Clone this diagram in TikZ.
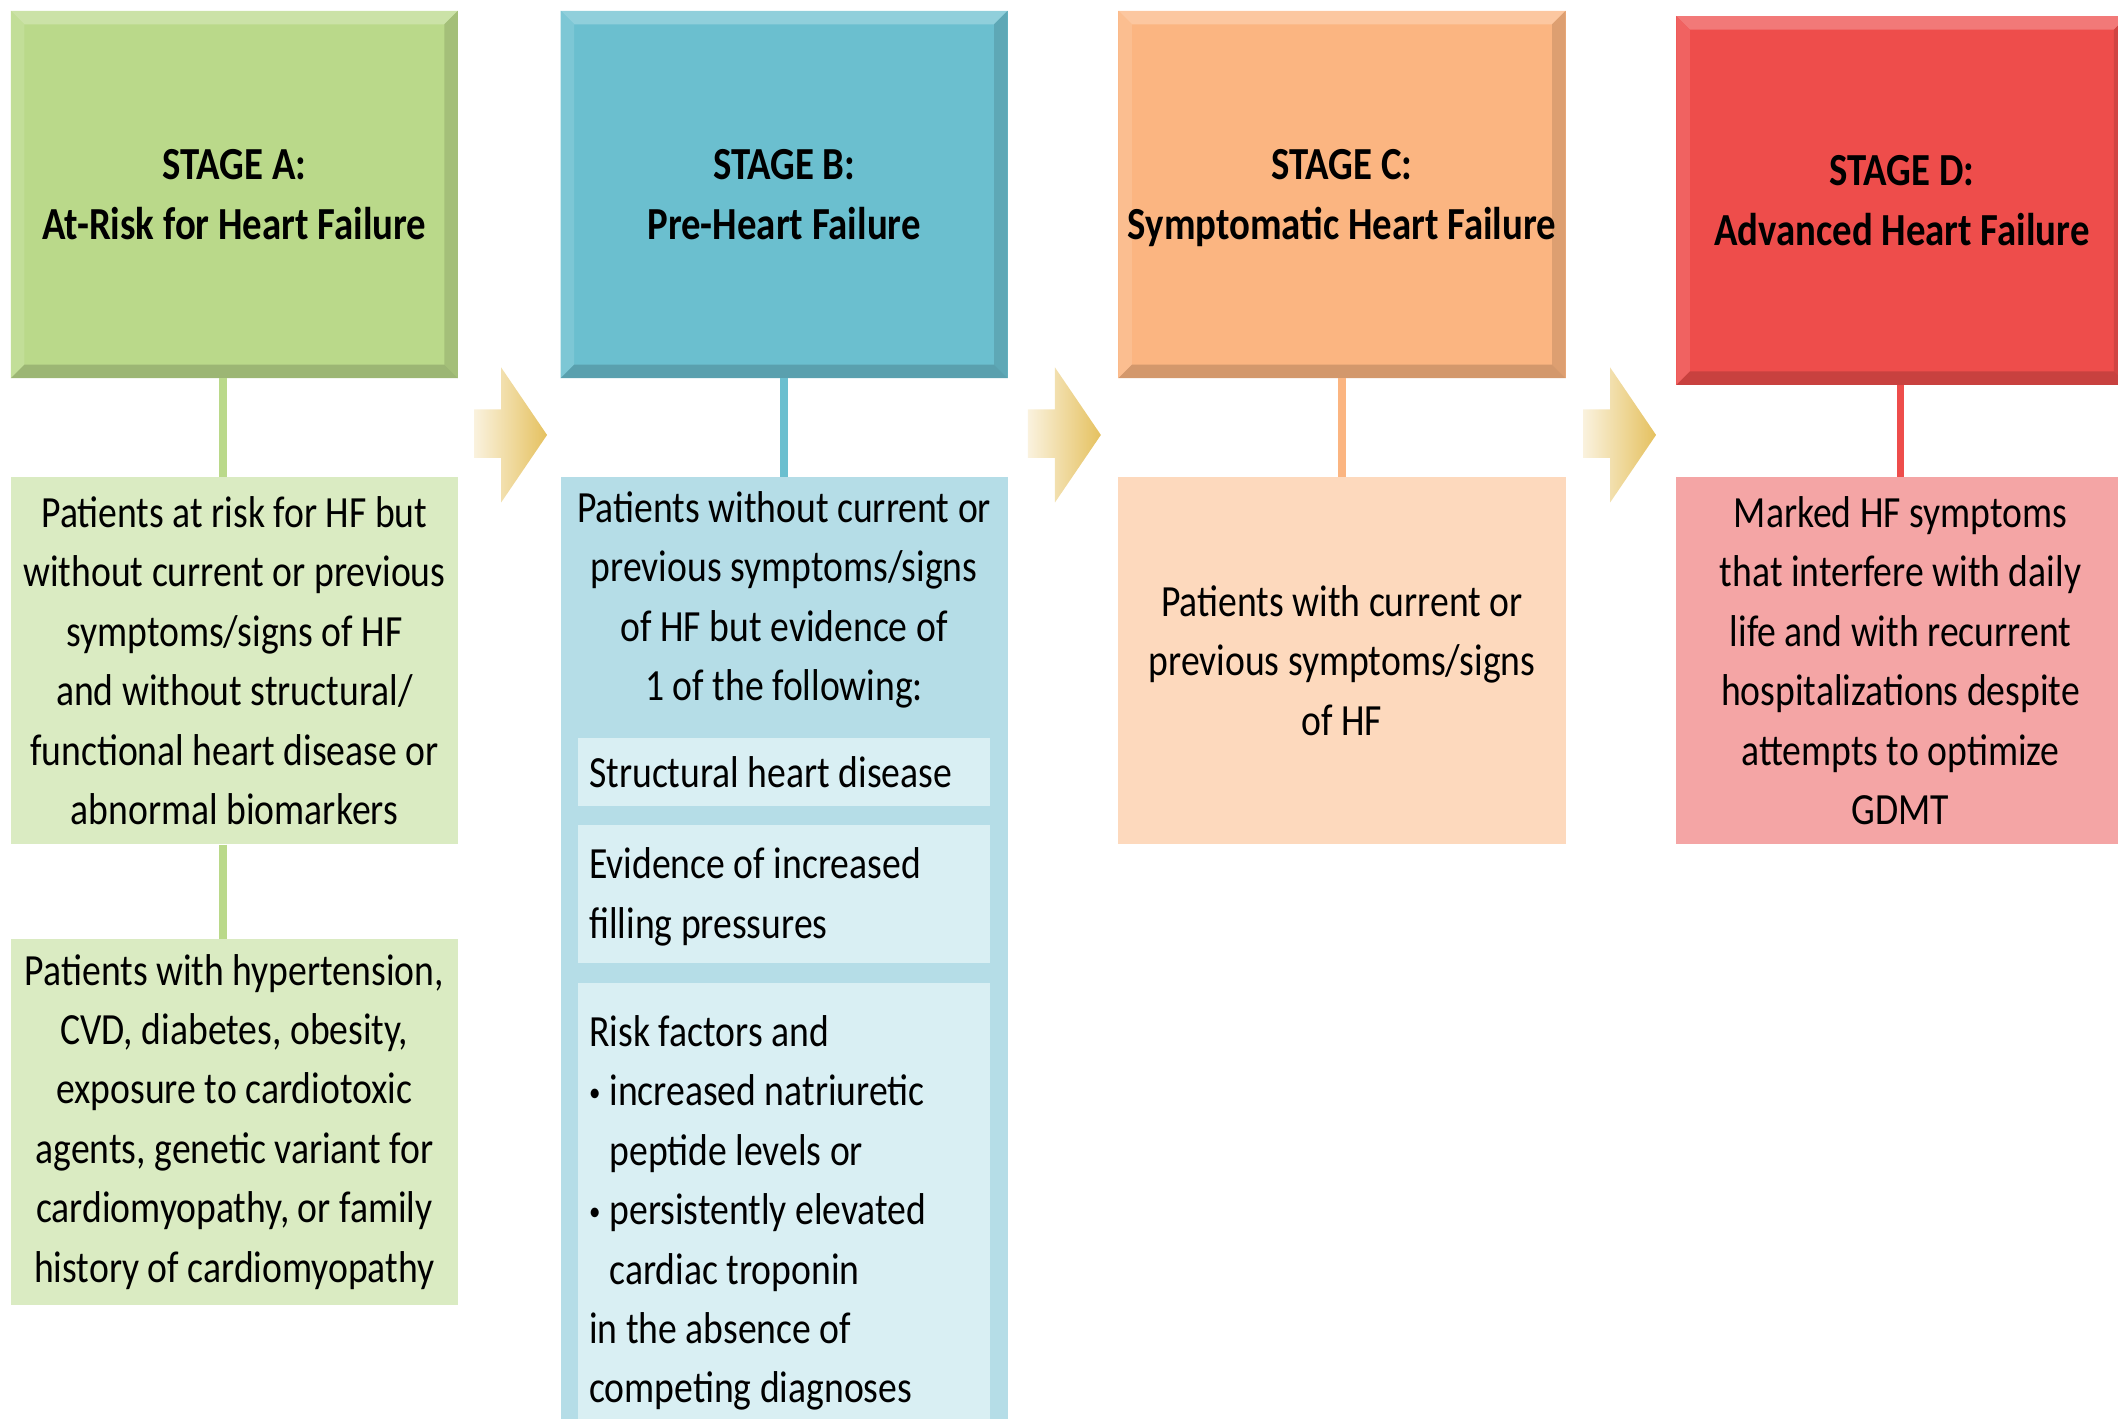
\documentclass[tikz,border=0pt]{standalone}
\usepackage{fontspec}
\setmainfont{Carlito}[FakeStretch=0.845]
\usetikzlibrary{calc}
\definecolor{cA}{HTML}{BAD98A}
\definecolor{cAl}{HTML}{DAEBC2}
\definecolor{cB}{HTML}{6BBFCF}
\definecolor{cBl}{HTML}{B5DDE7}
\definecolor{cBi}{HTML}{D9EFF3}
\definecolor{cC}{HTML}{FBB581}
\definecolor{cCl}{HTML}{FDD9BD}
\definecolor{cD}{HTML}{EE4D4B}
\definecolor{cDl}{HTML}{F4A5A5}
\definecolor{arrL}{HTML}{FAF2DE}
\definecolor{arrR}{HTML}{E5C15F}
\tikzset{
  bevel/.style={fill=#1, path picture={
    \fill[#1!75!white] (path picture bounding box.north west) -- (path picture bounding box.north east)
      -- ([xshift=-10pt,yshift=-10pt]path picture bounding box.north east) -- ([xshift=10pt,yshift=-10pt]path picture bounding box.north west) -- cycle;
    \fill[#1!88!white] (path picture bounding box.north west) -- ([xshift=10pt,yshift=-10pt]path picture bounding box.north west)
      -- ([xshift=10pt,yshift=10pt]path picture bounding box.south west) -- (path picture bounding box.south west) -- cycle;
    \fill[#1!88!black] (path picture bounding box.north east) -- ([xshift=-10pt,yshift=-10pt]path picture bounding box.north east)
      -- ([xshift=-10pt,yshift=10pt]path picture bounding box.south east) -- (path picture bounding box.south east) -- cycle;
    \fill[#1!84!black] (path picture bounding box.south west) -- ([xshift=10pt,yshift=10pt]path picture bounding box.south west)
      -- ([xshift=-10pt,yshift=10pt]path picture bounding box.south east) -- (path picture bounding box.south east) -- cycle;
  }},
  head/.style={bevel=#1, minimum width=331pt, minimum height=272pt, inner sep=0pt, align=center,
    font=\bfseries\fontsize{34}{44}\selectfont},
  stagebox/.style={fill=#1, minimum width=331pt, minimum height=272pt, inner sep=0pt, align=center,
    font=\fontsize{33}{44}\selectfont},
  innerbox/.style={fill=cBi, minimum width=305pt, inner sep=0pt},
  lefttext/.style={anchor=west, align=left, inner sep=0pt, font=\fontsize{33}{44}\selectfont},
  conn/.style={line width=5.5pt},
  stagearrow/.style={left color=arrL, right color=arrR},
}
\newcommand{\blt}{\makebox[15pt][l]{\raisebox{3pt}{\fontsize{20}{20}\selectfont •}}}
\newcommand{\ind}{\hspace*{15pt}}
\newcommand{\nodepth}[1]{\raisebox{0pt}[\height][0pt]{#1}}
\begin{document}
\begin{tikzpicture}[x=1pt,y=-1pt]
\useasboundingbox (0,0) rectangle (1568,1050);
\clip (0,0) rectangle (1568,1050);

% columns x positions
\coordinate (xA) at (165,0);
\coordinate (xD) at (1407,0);

% headers
\node[head=cA] (hA) at (173.5,144) {STAGE A:\\At-Risk for Heart Failure};
\node[head=cB] (hB) at (580.5,144) {STAGE B:\\Pre-Heart Failure};
\node[head=cC] (hC) at (993.5,144) {STAGE C:\\\nodepth{Symptomatic Heart Failure}};
\node[head=cD, minimum width=334pt, minimum height=273pt] (hD) at (1408,148.5) {STAGE D:\\Advanced Heart Failure};

% stage A boxes
\node[stagebox=cAl] (a1) at (173.5,489) {Patients at risk for HF but\\without current or previous\\symptoms/signs of HF\\and without structural/\\functional heart disease or\\abnormal biomarkers};
\node[stagebox=cAl, minimum height=271pt] (a2) at (173.5,830.5) {Patients with hypertension,\\CVD, diabetes, obesity,\\exposure to cardiotoxic\\agents, genetic variant for\\cardiomyopathy, or family\\history of cardiomyopathy};

% stage B boxes
\node[stagebox=cBl, minimum height=707pt] (bB) at (580.5,706.5) {};
\node[lefttext, anchor=center, align=center] (tB) at (580.5,444) {Patients without current or\\previous symptoms/signs\\of HF but evidence of\\1 of the following:};
\node[innerbox, minimum height=51pt] (ib1) at (580.5,571.5) {};
\node[innerbox, minimum height=102pt] (ib2) at (580.5,662) {};
\node[innerbox, minimum height=332pt] (ib3) at (580.5,894) {};
\node[lefttext] (t1) at (436,572) {Structural heart disease};
\node[lefttext] (t2) at (436,664) {Evidence of increased\\filling pressures};
\node[lefttext] (t3) at (436,898) {Risk factors and\\\blt increased natriuretic\\\ind peptide levels or\\\blt persistently elevated\\\ind cardiac troponin\\in the absence of\\competing diagnoses};

% stage C box
\node[stagebox=cCl] (c1) at (993.5,489) {Patients with current or\\previous symptoms/signs\\of HF};

% stage D box
\node[stagebox=cDl, minimum width=332pt] (d1) at (1407,489) {Marked HF symptoms\\that interfere with daily\\life and with recurrent\\hospitalizations despite\\attempts to optimize\\GDMT};

% connectors
\draw[conn, draw=cA] (hA.south -| xA) -- (a1.north -| xA);
\draw[conn, draw=cA] (a1.south -| xA) -- (a2.north -| xA);
\draw[conn, draw=cB] (hB.south) -- (bB.north);
\draw[conn, draw=cC] (hC.south) -- (c1.north);
\draw[conn, draw=cD] (hD.south -| xD) -- (d1.north -| xD);

% stage arrows
\foreach \x in {351,761,1172}{
  \shade[stagearrow] (\x,303) -- (\x+20,303) -- (\x+20,272) -- (\x+54,322) -- (\x+20,372) -- (\x+20,339) -- (\x,339) -- cycle;
}
\end{tikzpicture}
\end{document}
